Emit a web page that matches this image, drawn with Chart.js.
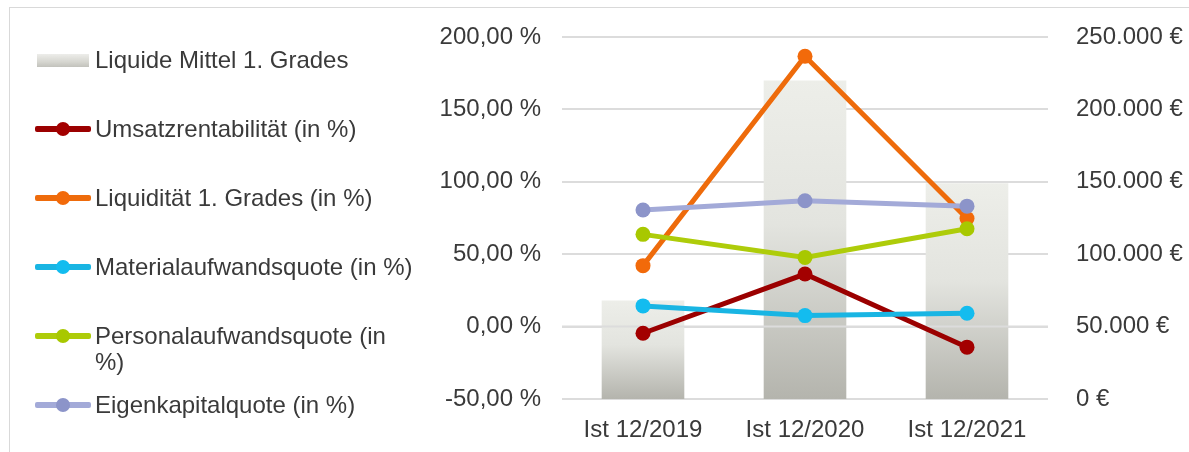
<!DOCTYPE html>
<html lang="de">
<head>
<meta charset="utf-8">
<title>Kennzahlen</title>
<script src="https://cdn.jsdelivr.net/npm/chart.js@4.4.1/dist/chart.umd.min.js"></script>
<style>
  html, body { margin: 0; padding: 0; background: #fff; }
  #wrap { position: relative; width: 1189px; height: 452px; overflow: hidden; font-family: "Liberation Sans", Arial, sans-serif; }
  #frame { position: absolute; left: 9px; top: 7px; width: 1300px; height: 600px; border: 1px solid #d9d9d9; box-sizing: border-box; }
  #chart { position: absolute; left: 0; top: 0; }
  #legend { position: absolute; left: 0; top: 47px; }
  .item { position: relative; height: 69px; }
  .icon { position: absolute; left: 35px; top: 13px; width: 56px; }
  .icon .bar { position: absolute; left: 2px; top: -6px; width: 52px; height: 13px; background: linear-gradient(#ededea, #d6d6d0 60%, #c2c2bc); }
  .icon .line { position: absolute; left: 0; top: -3px; width: 56px; height: 6px; border-radius: 2px; }
  .icon .dot { position: absolute; left: 21px; top: -7px; width: 14px; height: 14px; border-radius: 50%; }
  .txt { position: absolute; left: 95px; top: 0; width: 322px; font-size: 24px; line-height: 26px; color: #3a3a3a; }
</style>
</head>
<body>
<div id="wrap">
  <div id="frame"></div>
  <canvas id="chart" width="1189" height="452"></canvas>
  <div id="legend"></div>
</div>
<script>
// Kategorien
const categories = ['Ist 12/2019', 'Ist 12/2020', 'Ist 12/2021'];

// Liquide Mittel in Euro (rechte Achse)
const liquideMittel = [68000, 220000, 149000];

// Kennzahlen in Prozent (linke Achse)
const umsatzrentabilitaet = [-4.6, 36.3, -14.2];
const liquiditaet = [42.1, 186.7, 74.7];
const materialquote = [14.3, 7.6, 9.2];
const personalquote = [63.7, 47.8, 67.6];
const eigenkapitalquote = [80.5, 86.9, 83.2];

const fmtPercent = v => v.toFixed(2).replace('.', ',') + ' %';
const fmtEuro = v => String(v).replace(/\B(?=(\d{3})+(?!\d))/g, '.') + ' €';

Chart.defaults.font.family = '"Liberation Sans", Arial, sans-serif';
Chart.defaults.font.size = 24;
Chart.defaults.color = '#3a3a3a';

function barGradient(context) {
  const chart = context.chart;
  const { ctx, chartArea, scales } = chart;
  if (!chartArea || context.raw === undefined) return '#e0e0dc';
  const top = scales.y2.getPixelForValue(context.raw);
  const bottom = scales.y2.getPixelForValue(0);
  const g = ctx.createLinearGradient(0, top, 0, bottom);
  g.addColorStop(0, '#edeee9');
  g.addColorStop(0.45, '#e3e4df');
  g.addColorStop(1, '#b4b4ad');
  return g;
}

function lineSet(label, data, color, pointColor, order) {
  return {
    type: 'line',
    label: label,
    data: data,
    yAxisID: 'y',
    borderColor: color,
    backgroundColor: pointColor,
    borderWidth: 5,
    pointRadius: 7.5,
    pointBackgroundColor: pointColor,
    pointBorderColor: pointColor,
    pointBorderWidth: 0,
    tension: 0,
    order: order
  };
}

// Nulllinie ueber den Balken, unter den Linien
const zeroLine = {
  id: 'zeroLine',
  afterDatasetDraw(chart, args) {
    if (args.meta.type !== 'bar') return;
    const { ctx, chartArea, scales } = chart;
    const y = scales.y.getPixelForValue(0);
    ctx.save();
    ctx.strokeStyle = '#dcdcdc';
    ctx.lineWidth = 2;
    ctx.beginPath();
    ctx.moveTo(chartArea.left, y);
    ctx.lineTo(chartArea.right, y);
    ctx.stroke();
    ctx.restore();
  }
};

const chart = new Chart(document.getElementById('chart').getContext('2d'), {
  data: {
    labels: categories,
    datasets: [
      {
        type: 'bar',
        label: 'Liquide Mittel 1. Grades',
        data: liquideMittel,
        yAxisID: 'y2',
        backgroundColor: barGradient,
        categoryPercentage: 1,
        barPercentage: 0.51,
        order: 10
      },
      lineSet('Umsatzrentabilität (in %)', umsatzrentabilitaet, '#9b0000', '#a30000', 5),
      lineSet('Liquidität 1. Grades (in %)', liquiditaet, '#ee6b0b', '#f26a0a', 4),
      lineSet('Materialaufwandsquote (in %)', materialquote, '#19b5e3', '#13bcef', 3),
      lineSet('Personalaufwandsquote (in %)', personalquote, '#aecc0a', '#a8c800', 2),
      lineSet('Eigenkapitalquote (in %)', eigenkapitalquote, '#a3aad8', '#8c94c9', 1)
    ]
  },
  options: {
    responsive: false,
    animation: false,
    layout: { padding: { left: 420, top: 37, right: 0, bottom: 0 } },
    plugins: {
      legend: { display: false },
      tooltip: { enabled: false }
    },
    scales: {
      x: {
        grid: { display: false },
        border: { display: false },
        ticks: { padding: 9 },
        afterFit: scale => { scale.height = 53; }
      },
      y: {
        position: 'left',
        min: -50,
        max: 200,
        ticks: { stepSize: 50, padding: 21, callback: v => fmtPercent(v) },
        grid: { color: '#dcdcdc', lineWidth: 2, drawTicks: false },
        border: { display: false },
        afterFit: scale => { scale.width = 142; }
      },
      y2: {
        position: 'right',
        min: 0,
        max: 250000,
        ticks: { stepSize: 50000, padding: 20, callback: v => fmtEuro(v) },
        grid: { display: false },
        border: { display: false },
        afterFit: scale => { scale.width = 141; }
      }
    }
  },
  plugins: [zeroLine]
});

// Legende links aus den Datensaetzen
const legend = document.getElementById('legend');
chart.data.datasets.forEach(ds => {
  const item = document.createElement('div');
  item.className = 'item';
  const icon = document.createElement('div');
  icon.className = 'icon';
  if (ds.type === 'bar') {
    icon.innerHTML = '<div class="bar"></div>';
  } else {
    icon.innerHTML = '<div class="line" style="background:' + ds.borderColor + '"></div>' +
      '<div class="dot" style="background:' + ds.pointBackgroundColor + '"></div>';
  }
  const txt = document.createElement('div');
  txt.className = 'txt';
  txt.textContent = ds.label;
  item.appendChild(icon);
  item.appendChild(txt);
  legend.appendChild(item);
});
</script>
</body>
</html>
